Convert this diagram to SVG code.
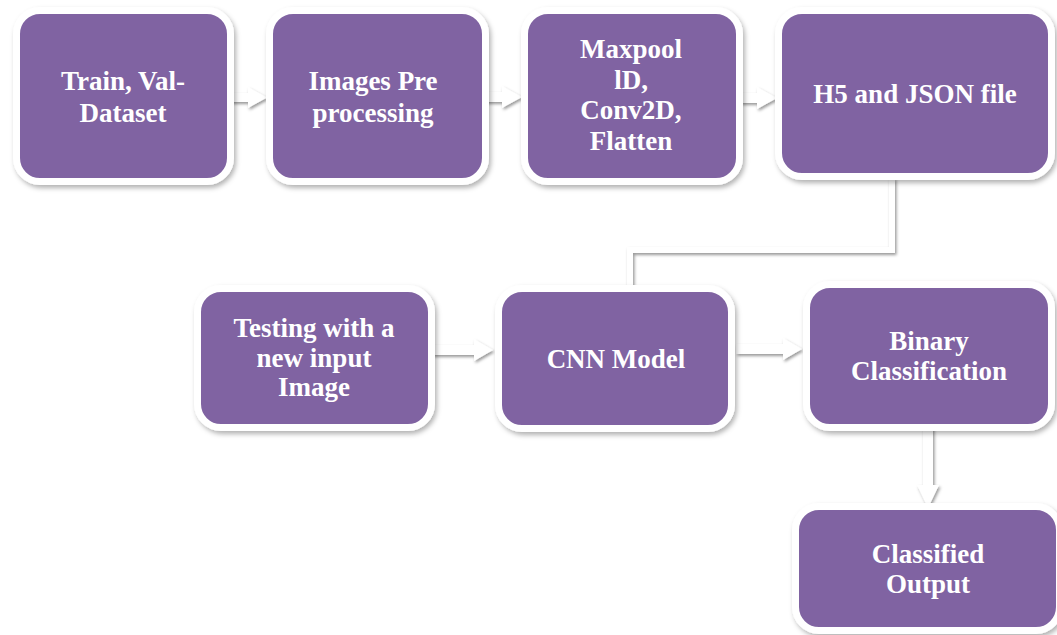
<svg xmlns="http://www.w3.org/2000/svg" width="1057" height="635" viewBox="0 0 1057 635">
  <defs>
    <filter id="shadow" x="-20%" y="-20%" width="140%" height="140%">
      <feDropShadow dx="2" dy="3" stdDeviation="2.5" flood-color="#000" flood-opacity="0.3"/>
    </filter>
    <filter id="lineShadow" x="-20%" y="-20%" width="140%" height="140%">
      <feDropShadow dx="1.5" dy="2" stdDeviation="1.5" flood-color="#000" flood-opacity="0.4"/>
    </filter>
  </defs>
  <style>
    .box { fill: #8064A2; stroke: #FFFFFF; stroke-width: 7; filter: url(#shadow); }
    .label { font-family: "Times New Roman", "Liberation Serif", Tinos, Times, serif; font-weight: bold; font-size: 27px; fill: #FFFFFF; text-anchor: middle; }
    .arrow { fill: #FFFFFF; filter: url(#lineShadow); }
    .elbow { fill: none; stroke: #FFFFFF; stroke-width: 6; filter: url(#lineShadow); }
  </style>
  <rect width="1057" height="635" fill="#FFFFFF"/>

  <!-- connectors -->
  <g id="connectors">
    <polygon class="arrow" points="230,93 248,93 248,87 267,97.5 248,108 248,102 230,102"/>
    <polygon class="arrow" points="485,92 502,92 502,86 522,97 502,108 502,102 485,102"/>
    <polygon class="arrow" points="740,93 757,93 757,87 777,98 757,109 757,103 740,103"/>
    <path class="elbow" d="M892,178 V250 H630 V290"/>
    <polygon class="arrow" points="432,345 474,345 474,339 493,350 474,361 474,355 432,355"/>
    <polygon class="arrow" points="736,344 783,344 783,338 802,349 783,360 783,354 736,354"/>
    <polygon class="arrow" points="923,426 933,426 933,485 939,485 928,508 917,485 923,485"/>
  </g>

  <!-- nodes -->
  <g id="train-val-dataset">
    <rect class="box" x="16.5" y="10.5" width="214" height="171" rx="23.5"/>
    <text class="label" x="123" y="90">Train, Val-</text>
    <text class="label" x="123" y="122">Dataset</text>
  </g>
  <g id="images-preprocessing">
    <rect class="box" x="269.5" y="10.5" width="216" height="171" rx="23.5"/>
    <text class="label" x="373" y="90">Images Pre</text>
    <text class="label" x="373" y="122">processing</text>
  </g>
  <g id="layers">
    <rect class="box" x="524.5" y="10.5" width="215" height="171" rx="23.5"/>
    <text class="label" x="631" y="58">Maxpool</text>
    <text class="label" x="631" y="89">lD,</text>
    <text class="label" x="631" y="119">Conv2D,</text>
    <text class="label" x="631" y="150">Flatten</text>
  </g>
  <g id="h5-json-file">
    <rect class="box" x="778.5" y="10.5" width="273" height="166" rx="23.5"/>
    <text class="label" x="915" y="103">H5 and JSON file</text>
  </g>
  <g id="testing-input">
    <rect class="box" x="197.5" y="288.5" width="234" height="139" rx="23.5"/>
    <text class="label" x="314" y="337">Testing with a</text>
    <text class="label" x="314" y="367">new input</text>
    <text class="label" x="314" y="396">Image</text>
  </g>
  <g id="cnn-model">
    <rect class="box" x="498.5" y="288.5" width="233" height="140" rx="23.5"/>
    <text class="label" x="616" y="368">CNN Model</text>
  </g>
  <g id="binary-classification">
    <rect class="box" x="806.5" y="284.5" width="245" height="143" rx="23.5"/>
    <text class="label" x="929" y="350">Binary</text>
    <text class="label" x="929" y="380">Classification</text>
  </g>
  <g id="classified-output">
    <rect class="box" x="795.5" y="506.5" width="264" height="124" rx="23.5"/>
    <text class="label" x="928" y="563">Classified</text>
    <text class="label" x="928" y="593">Output</text>
  </g>
</svg>
